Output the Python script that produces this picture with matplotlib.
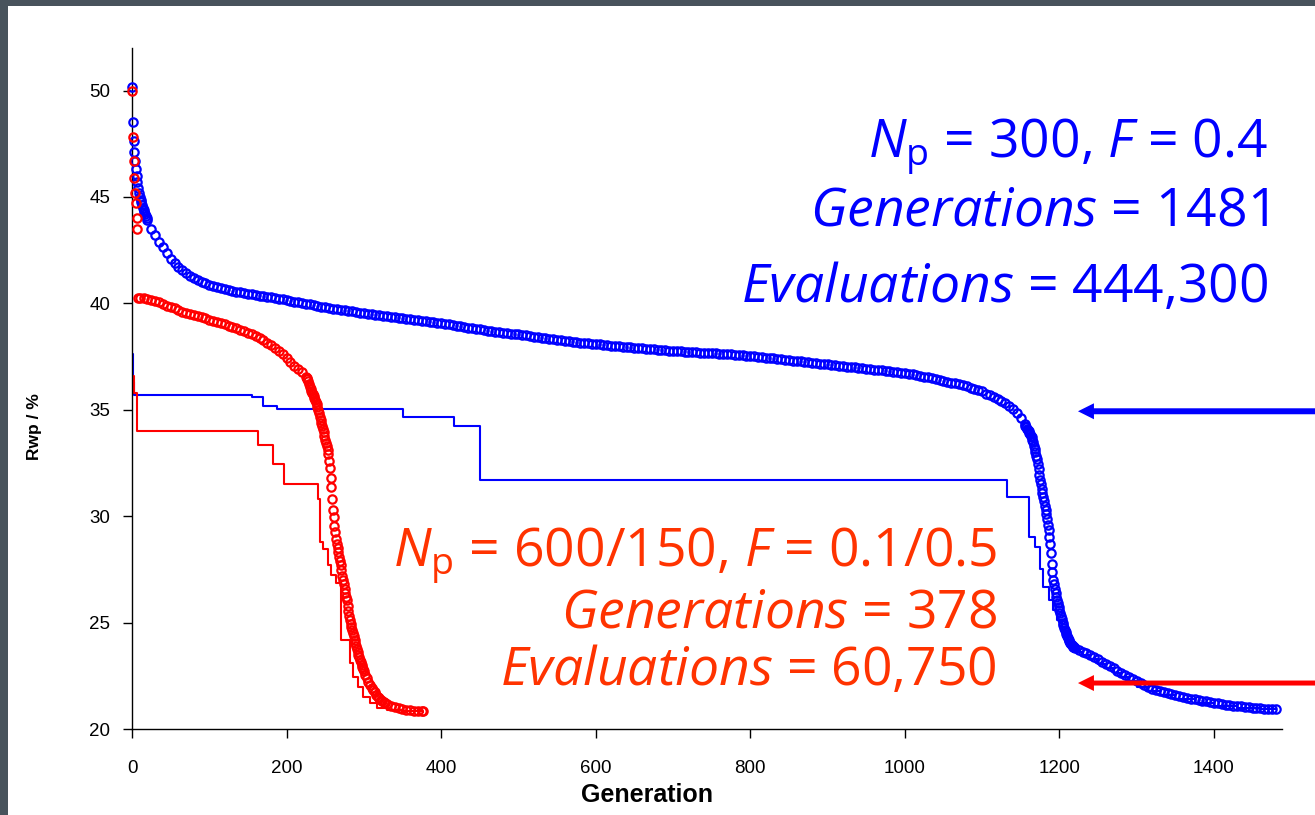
import numpy as np
import matplotlib
matplotlib.use("Agg")
import matplotlib.pyplot as plt
from matplotlib.patches import Rectangle, FancyArrowPatch

# ---------------------------------------------------------------------------
# Data: Rwp (%) of the population versus generation for two DE runs
# ---------------------------------------------------------------------------

# Run 1: Np = 300, F = 0.4 (blue)
blue_start = [50.15, 48.5, 47.65, 47.1, 46.7, 46.3, 46.0, 45.7, 45.4, 45.2,
              45.0, 44.88, 44.75, 44.62, 44.5, 44.4, 44.3, 44.2, 44.1, 44.0,
              43.9]                                   # generations 0..20
blue_plateau = [                                      # generations 25..1155, every 5th
    43.5, 43.2, 42.9, 42.64, 42.35, 42.1, 41.9, 41.72, 41.56, 41.42,
    41.3, 41.2, 41.1, 41.02, 40.94, 40.87, 40.81, 40.76, 40.71, 40.66,
    40.62, 40.58, 40.55, 40.52, 40.49, 40.46, 40.43, 40.4, 40.37, 40.34,
    40.31, 40.28, 40.25, 40.22, 40.19, 40.15, 40.12, 40.08, 40.05, 40.02,
    39.98, 39.95, 39.91, 39.88, 39.85, 39.81, 39.78, 39.75, 39.72, 39.7,
    39.67, 39.64, 39.62, 39.6, 39.57, 39.55, 39.52, 39.5, 39.47, 39.45,
    39.42, 39.4, 39.37, 39.35, 39.32, 39.3, 39.28, 39.25, 39.23, 39.21,
    39.18, 39.16, 39.14, 39.12, 39.1, 39.07, 39.04, 39.01, 38.98, 38.95,
    38.92, 38.89, 38.86, 38.83, 38.8, 38.78, 38.75, 38.72, 38.69, 38.66,
    38.64, 38.62, 38.6, 38.58, 38.56, 38.54, 38.52, 38.5, 38.47, 38.44,
    38.42, 38.39, 38.37, 38.34, 38.32, 38.3, 38.27, 38.25, 38.22, 38.2,
    38.18, 38.16, 38.14, 38.12, 38.1, 38.08, 38.07, 38.05, 38.04, 38.02,
    38.0, 37.98, 37.97, 37.95, 37.94, 37.92, 37.9, 37.89, 37.87, 37.86,
    37.84, 37.83, 37.81, 37.8, 37.78, 37.77, 37.76, 37.74, 37.73, 37.72,
    37.71, 37.7, 37.69, 37.68, 37.67, 37.66, 37.65, 37.63, 37.62, 37.61,
    37.6, 37.58, 37.57, 37.56, 37.55, 37.53, 37.51, 37.49, 37.47, 37.45,
    37.43, 37.41, 37.39, 37.37, 37.35, 37.33, 37.31, 37.29, 37.27, 37.25,
    37.23, 37.21, 37.19, 37.17, 37.15, 37.13, 37.11, 37.09, 37.07, 37.05,
    37.03, 37.01, 36.99, 36.97, 36.95, 36.93, 36.91, 36.89, 36.87, 36.85,
    36.83, 36.81, 36.79, 36.77, 36.75, 36.72, 36.69, 36.66, 36.63, 36.6,
    36.56, 36.52, 36.48, 36.44, 36.4, 36.36, 36.32, 36.28, 36.24, 36.2,
    36.15, 36.1, 36.04, 35.98, 35.92, 35.86, 35.76, 35.68, 35.6, 35.5,
    35.4, 35.3, 35.18, 35.02, 34.85, 34.6, 34.35]
blue_drop = [                                         # generations 1156..1220
    34.25, 34.18, 34.1, 34.05, 34.0,
    33.9, 33.85, 33.75, 33.7, 33.6,
    33.5, 33.3, 33.15, 33.0, 32.85,
    32.7, 32.45, 32.2, 31.95, 31.7,
    31.5, 31.3, 31.1, 30.9, 30.7,
    30.5, 30.3, 30.1, 29.85, 29.6,
    29.35, 29.0, 28.7, 28.25, 27.75,
    27.4, 27.0, 26.8, 26.6, 26.4,
    26.2, 26.05, 25.9, 25.75, 25.6,
    25.45, 25.3, 25.15, 25.0, 24.9,
    24.75, 24.65, 24.55, 24.45, 24.35,
    24.28, 24.2, 24.12, 24.05, 24.0,
    23.95, 23.91, 23.87, 23.83, 23.8]
blue_tail = [                                         # generations 1225..1480, every 5th
    23.7, 23.62, 23.55, 23.48, 23.38, 23.27, 23.15, 23.05, 22.95, 22.85,
    22.73, 22.63, 22.53, 22.45, 22.35, 22.25, 22.15, 22.05, 21.97, 21.9,
    21.85, 21.78, 21.73, 21.68, 21.63, 21.58, 21.54, 21.5, 21.46, 21.43,
    21.4, 21.37, 21.33, 21.3, 21.27, 21.24, 21.2, 21.17, 21.14, 21.12,
    21.1, 21.08, 21.06, 21.04, 21.02, 21.0, 20.99, 20.97, 20.96, 20.95,
    20.94, 20.93]

# Best member of run 1 (stepped line)
blue_best_gen = [0, 1, 2, 155, 170, 187, 351, 417, 450, 1132, 1161, 1168, 1175,
                 1179, 1187, 1192, 1197, 1203, 1210, 1218, 1230, 1240, 1250,
                 1260, 1270, 1280, 1290, 1300, 1315, 1330, 1350, 1375, 1400,
                 1430, 1460, 1480]
blue_best_rwp = [37.6, 36.3, 35.68, 35.6, 35.16, 35.05, 34.67, 34.24, 31.72,
                 30.9, 29.03, 28.56, 27.54, 26.68, 26.06, 25.6, 25.1, 24.6,
                 24.1, 23.62, 23.48, 23.27, 23.05, 22.85, 22.63, 22.45, 22.25,
                 21.97, 21.78, 21.58, 21.4, 21.24, 21.08, 20.97, 20.93, 20.93]

# Run 2: Np = 600/150, F = 0.1/0.5 (red)
red_start = [50.0, 47.8, 46.7, 45.9, 45.2, 44.7, 44.0, 43.5, 40.25]   # generations 0..8
red_plateau = [                                       # generations 10..225, every 5th
    40.25, 40.24, 40.2, 40.16, 40.12, 40.06, 39.98, 39.9, 39.83, 39.76,
    39.68, 39.61, 39.55, 39.5, 39.44, 39.39, 39.34, 39.29, 39.23, 39.18,
    39.12, 39.07, 39.02, 38.96, 38.9, 38.84, 38.77, 38.7, 38.63, 38.55,
    38.46, 38.37, 38.27, 38.15, 38.03, 37.9, 37.75, 37.6, 37.45, 37.26,
    37.06, 36.9, 36.76, 36.55]
red_drop = [                                          # generations 226..300
    36.5, 36.43, 36.33, 36.22, 36.07,
    35.98, 35.9, 35.8, 35.72, 35.63,
    35.55, 35.46, 35.38, 35.28, 35.15,
    35.0, 34.85, 34.67, 34.53, 34.4,
    34.25, 34.1, 33.95, 33.78, 33.6,
    33.45, 33.3, 33.1, 32.9, 32.6,
    32.25, 31.8, 31.35, 30.8, 30.3,
    29.95, 29.55, 29.25, 28.95, 28.7,
    28.5, 28.3, 28.1, 27.9, 27.7,
    27.45, 27.2, 27.0, 26.8, 26.6,
    26.4, 26.22, 26.05, 25.8, 25.55,
    25.32, 25.1, 24.95, 24.8, 24.65,
    24.5, 24.35, 24.2, 24.05, 23.9,
    23.77, 23.64, 23.5, 23.37, 23.25,
    23.14, 23.03, 22.92, 22.82, 22.72]
red_tail = [22.55, 22.38, 22.22, 22.08, 21.95, 21.84, 21.73, 21.62, 21.52,
            21.44, 21.37, 21.31, 21.25, 21.2, 21.16]  # generations 302..330, every 2nd
red_end = [21.08, 21.02, 20.97, 20.93, 20.9, 20.88, 20.86, 20.85, 20.84,
           20.84]                                     # generations 335..375 every 5th, 377

# Best member of run 2 (stepped line)
red_best_gen = [0, 2, 7, 163, 183, 197, 241, 243, 247, 254, 258, 264, 270, 282,
                286, 293, 299, 308, 317, 330, 350, 377]
red_best_rwp = [36.6, 35.8, 34.0, 33.33, 32.45, 31.53, 30.83, 28.8, 28.48, 27.7,
                27.23, 26.84, 24.18, 23.08, 22.46, 21.99, 21.52, 21.2, 20.97,
                20.9, 20.85, 20.82]

x_ticks = [0, 200, 400, 600, 800, 1000, 1200, 1400]
y_ticks = [20, 25, 30, 35, 40, 45, 50]

blue_gen = np.concatenate([np.arange(0, 21), np.arange(25, 1156, 5),
                           np.arange(1156, 1221), np.arange(1225, 1481, 5)])
blue_rwp = np.concatenate([blue_start, blue_plateau, blue_drop, blue_tail])
red_gen = np.concatenate([np.arange(0, 9), np.arange(10, 226, 5),
                          np.arange(226, 301), np.arange(302, 331, 2),
                          np.arange(335, 376, 5), [377]])
red_rwp = np.concatenate([red_start, red_plateau, red_drop, red_tail, red_end])

# ---------------------------------------------------------------------------
# Figure
# ---------------------------------------------------------------------------
BLUE = "#0000ff"
RED = "#ff0000"
TXT_BLUE = "#0000ff"
TXT_RED = "#ff3300"

plt.rcParams["font.family"] = ["Liberation Sans", "DejaVu Sans"]
plt.rcParams["mathtext.fontset"] = "custom"
plt.rcParams["mathtext.rm"] = "Open Sans"
plt.rcParams["mathtext.it"] = "Open Sans:italic"
plt.rcParams["mathtext.bf"] = "Open Sans:bold"

W, H = 1315, 815
fig = plt.figure(figsize=(W / 100, H / 100), dpi=100)
fig.patch.set_facecolor("#48535c")
fig.add_artist(Rectangle((8 / W, 0), 1, 1 - 6 / H, transform=fig.transFigure,
                         facecolor="white", edgecolor="none", zorder=0))

ax = fig.add_axes([132 / W, 1 - 729 / H, 1150 / W, 681 / H])
ax.patch.set_alpha(0)

ax.plot(blue_best_gen, blue_best_rwp, drawstyle="steps-post", color=BLUE, lw=1.5, zorder=2)
ax.plot(red_best_gen, red_best_rwp, drawstyle="steps-post", color=RED, lw=1.5, zorder=2)
mk = dict(ls="none", marker="o", ms=6, mfc="none", mew=1.6, clip_on=False, zorder=3)
ax.plot(blue_gen, blue_rwp, mec=BLUE, **mk)
ax.plot(red_gen, red_rwp, mec=RED, **mk)

ax.set_xlim(0, 1488)
ax.set_ylim(20, 52)
ax.set_xticks(x_ticks)
ax.set_yticks(y_ticks)
for side in ("top", "right"):
    ax.spines[side].set_visible(False)
for side in ("left", "bottom"):
    ax.spines[side].set_linewidth(1.0)
ax.tick_params(direction="out", length=6.5, width=1.0, labelsize=13.5)
ax.tick_params(axis="x", pad=16)
ax.tick_params(axis="y", pad=9)

fig.text(647 / W, 1 - 795 / H, "Generation", ha="center", va="center",
         fontsize=18, fontweight="bold")
fig.text(35 / W, 1 - 427 / H, "Rwp / %", ha="center", va="center",
         rotation=90, fontsize=12.5, fontweight="bold")

# Run annotations
txt_kw = dict(ha="right", va="baseline", fontsize=38.5, family="Open Sans")
fig.text(1268 / W, 1 - 158 / H, r"$N_\mathrm{p}$ = 300, $F$ = 0.4", color=TXT_BLUE, **txt_kw)
fig.text(1268 / W, 1 - 225 / H, r"$\mathit{Generations}$ = 1481", color=TXT_BLUE, **txt_kw)
fig.text(1268 / W, 1 - 302 / H, r"$\mathit{Evaluations}$ = 444,300", color=TXT_BLUE, **txt_kw)
fig.text(997 / W, 1 - 567 / H, r"$N_\mathrm{p}$ = 600/150, $F$ = 0.1/0.5", color=TXT_RED, **txt_kw)
fig.text(997 / W, 1 - 627 / H, r"$\mathit{Generations}$ = 378", color=TXT_RED, **txt_kw)
fig.text(997 / W, 1 - 685 / H, r"$\mathit{Evaluations}$ = 60,750", color=TXT_RED, **txt_kw)

# Arrows from the right edge pointing at each curve
for y_val, col, tail in ((34.93, BLUE, 4.3), (22.16, RED, 3.6)):
    tip = ax.transData.transform((1224, y_val))
    start = (W, tip[1])
    arr = FancyArrowPatch(start, tuple(tip), transform=None,
                          arrowstyle=f"simple,head_length=11.5,head_width=11.5,tail_width={tail}",
                          mutation_scale=1, color=col, lw=0, shrinkA=0, shrinkB=0,
                          clip_on=False, zorder=4)
    fig.add_artist(arr)

fig.savefig("out.png", dpi=100, facecolor=fig.get_facecolor())
